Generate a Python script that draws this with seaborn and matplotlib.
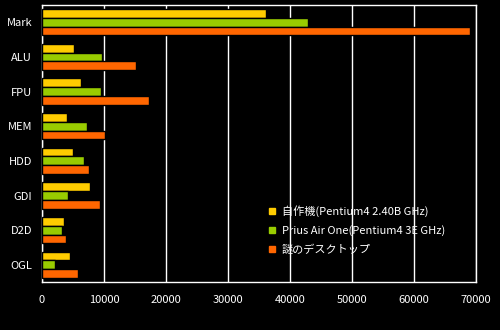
import matplotlib
matplotlib.use("Agg")
import matplotlib.pyplot as plt
import seaborn as sns
import pandas as pd
from matplotlib.lines import Line2D

categories = ["Mark", "ALU", "FPU", "MEM", "HDD", "GDI", "D2D", "OGL"]
series_names = ["自作機(Pentium4 2.40B GHz)", "Prius Air One(Pentium4 3E GHz)", "謎のデスクトップ"]
values_jisaku = [36200, 5100, 6250, 3980, 4950, 7700, 3500, 4480]
values_prius = [42850, 9630, 9470, 7210, 6720, 4150, 3180, 2050]
values_nazo = [68980, 15110, 17210, 10110, 7530, 9310, 3820, 5760]
colors = ["#FFCC00", "#99CC00", "#FF6600"]
xticks = [0, 10000, 20000, 30000, 40000, 50000, 60000, 70000]

rows = []
for name, vals in zip(series_names, [values_jisaku, values_prius, values_nazo]):
    for c, v in zip(categories, vals):
        rows.append({"cat": c, "value": v, "series": name})
df = pd.DataFrame(rows)

sns.set_style("dark")
plt.rcParams['font.family'] = ['Noto Sans CJK JP', 'DejaVu Sans']

fig = plt.figure(figsize=(5, 3.3), dpi=100, facecolor="black")
ax = fig.add_axes([0.084, 0.145, 0.868, 0.84])
ax.set_facecolor("black")

sns.barplot(data=df, y="cat", x="value", hue="series", order=categories,
            hue_order=series_names, palette=colors, orient="h", width=0.76,
            edgecolor="black", linewidth=1.0, saturation=1, legend=False, ax=ax, zorder=3)

ax.set_xlim(0, 70000)
ax.set_ylim(len(categories) - 0.5, -0.5)
ax.set_xticks(xticks)
ax.set_xticklabels([str(t) for t in xticks], color="white", fontsize=8)
ax.tick_params(axis="x", length=0, pad=9)
ax.tick_params(axis="y", which="major", length=0, pad=7, labelcolor="white", labelsize=8)
ax.set_yticks([i + 0.5 for i in range(len(categories) - 1)], minor=True)
ax.tick_params(axis="y", which="minor", direction="in", length=3, color="white", width=1)
ax.set_xlabel("")
ax.set_ylabel("")
ax.grid(False)
ax.xaxis.grid(True, color="white", linewidth=1.0, zorder=1)
ax.set_axisbelow(True)
for s in ax.spines.values():
    s.set_visible(True)
    s.set_color("white")
    s.set_linewidth(1.0)

handles = [Line2D([0], [0], marker="s", linestyle="none", markersize=4.5,
                  markerfacecolor=c, markeredgecolor=c) for c in colors]
leg = fig.legend(handles, series_names, loc="upper left", bbox_to_anchor=(0.527, 0.394),
                 frameon=False, fontsize=8, handlelength=0.6, handletextpad=0.55,
                 labelspacing=0.72, borderpad=0)
for t in leg.get_texts():
    t.set_color("white")

fig.savefig("out.png", dpi=100, facecolor="black")
